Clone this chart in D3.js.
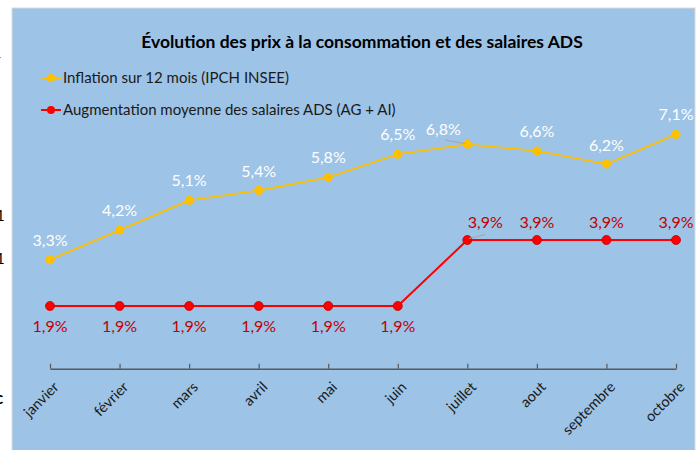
<!DOCTYPE html>
<html><head><meta charset="utf-8">
<script src="https://cdn.jsdelivr.net/npm/d3@7"></script>
<style>
html,body{margin:0;padding:0;background:#fff;}
text{font-family:Lato,"Open Sans",sans-serif;}
</style></head>
<body>
<svg id="c" width="700" height="450"></svg>
<script>
const months = ["janvier","février","mars","avril","mai","juin","juillet","aout","septembre","octobre"];
const inflation = [3.3,4.2,5.1,5.4,5.8,6.5,6.8,6.6,6.2,7.1];
const salaires = [1.9,1.9,1.9,1.9,1.9,1.9,3.9,3.9,3.9,3.9];
const seriesNames = ["Inflation sur 12 mois (IPCH INSEE)","Augmentation moyenne des salaires ADS (AG + AI)"];
const title = "Évolution des prix à la consommation et des salaires ADS";

const svg = d3.select("#c");
// panel
svg.append("rect").attr("x",12).attr("y",8).attr("width",683).attr("height",450)
  .attr("fill","#9dc3e6").attr("stroke","#d9d9d9").attr("stroke-width",1);

// cropped fragments at left edge
svg.append("text").attr("x",-4).attr("y",62).attr("font-size",14).attr("fill","#000").text("-");
svg.append("text").attr("x",-4).attr("y",221).attr("font-size",15).attr("fill","#000").text("1");
svg.append("text").attr("x",-4).attr("y",264).attr("font-size",15).attr("fill","#000").text("1");
svg.append("text").attr("x",-5).attr("y",404).attr("font-size",17).attr("font-weight","bold").attr("fill","#000").text("c");

const x = d3.scalePoint().domain(months).range([50,676]);
const y = d3.scaleLinear().domain([0,8]).range([368.7,104.7]);

svg.append("text").attr("x",362).attr("y",48).attr("text-anchor","middle")
  .attr("font-size",17.5).attr("font-weight","bold").attr("fill","#000").text(title);

// axis
const ax = svg.append("g").attr("transform","translate(0,"+y(0)+")")
  .call(d3.axisBottom(x).tickSizeInner(-5).tickSizeOuter(0).tickPadding(6));
ax.select(".domain").attr("stroke","#595959").attr("stroke-width",1.5);
ax.selectAll(".tick line").attr("stroke","#595959").attr("stroke-width",1.2);
ax.selectAll(".tick text").attr("font-size",14.5).attr("fill","#1a1a1a")
  .attr("font-family","Lato,sans-serif")
  .attr("text-anchor","end").attr("dy",0)
  .attr("transform","translate(5,15) rotate(-45)");

const line = d3.line().x((d,i)=>x(months[i])).y(d=>y(d));
const colInf = "#ffc000", colSal = "#ff0000";

svg.append("path").datum(salaires).attr("d",line).attr("fill","none").attr("stroke",colSal).attr("stroke-width",2);
svg.append("path").datum(inflation).attr("d",line).attr("fill","none").attr("stroke",colInf).attr("stroke-width",1.8);

svg.selectAll(".ps").data(salaires).enter().append("circle")
  .attr("cx",(d,i)=>x(months[i])).attr("cy",d=>y(d)).attr("r",4.5)
  .attr("fill",colSal).attr("stroke","#c00000").attr("stroke-width",0.8);
svg.selectAll(".pi").data(inflation).enter().append("circle")
  .attr("cx",(d,i)=>x(months[i])).attr("cy",d=>y(d)).attr("r",4.5)
  .attr("fill",colInf);

const fmt = v => d3.format(".1f")(v).replace(".",",")+"%";

// leader lines
svg.append("line").attr("x1",445).attr("y1",140).attr("x2",465).attr("y2",143.5).attr("stroke","#a6a6a6").attr("stroke-width",1);
svg.append("line").attr("x1",469).attr("y1",238.5).attr("x2",485).attr("y2",234.5).attr("stroke","#a6a6a6").attr("stroke-width",1);

// inflation labels
svg.selectAll(".li").data(inflation).enter().append("text")
  .attr("x",(d,i)=>x(months[i]) + (i===6?-24:0))
  .attr("y",(d,i)=>y(d) - (i===8?13:i===6?9:14))
  .attr("text-anchor","middle").attr("font-size",16).attr("fill","#fff").text(d=>fmt(d));
// salary labels
svg.selectAll(".ls").data(salaires).enter().append("text")
  .attr("x",(d,i)=>x(months[i]) + (i===6?18:0))
  .attr("y",(d,i)=>i<6 ? y(d)+26 : y(d)-12)
  .attr("text-anchor","middle").attr("font-size",16).attr("fill","#c00000").text(d=>fmt(d));

// legend
const lg = [[colInf,78],[colSal,110]];
lg.forEach((l,i)=>{
  svg.append("line").attr("x1",41).attr("x2",61).attr("y1",l[1]).attr("y2",l[1]).attr("stroke",l[0]).attr("stroke-width",2);
  svg.append("circle").attr("cx",51).attr("cy",l[1]).attr("r",4).attr("fill",l[0]);
  svg.append("text").attr("x",63).attr("y",l[1]+5).attr("font-size",15).attr("fill","#1a1a1a").text(seriesNames[i]);
});
</script>
</body></html>
